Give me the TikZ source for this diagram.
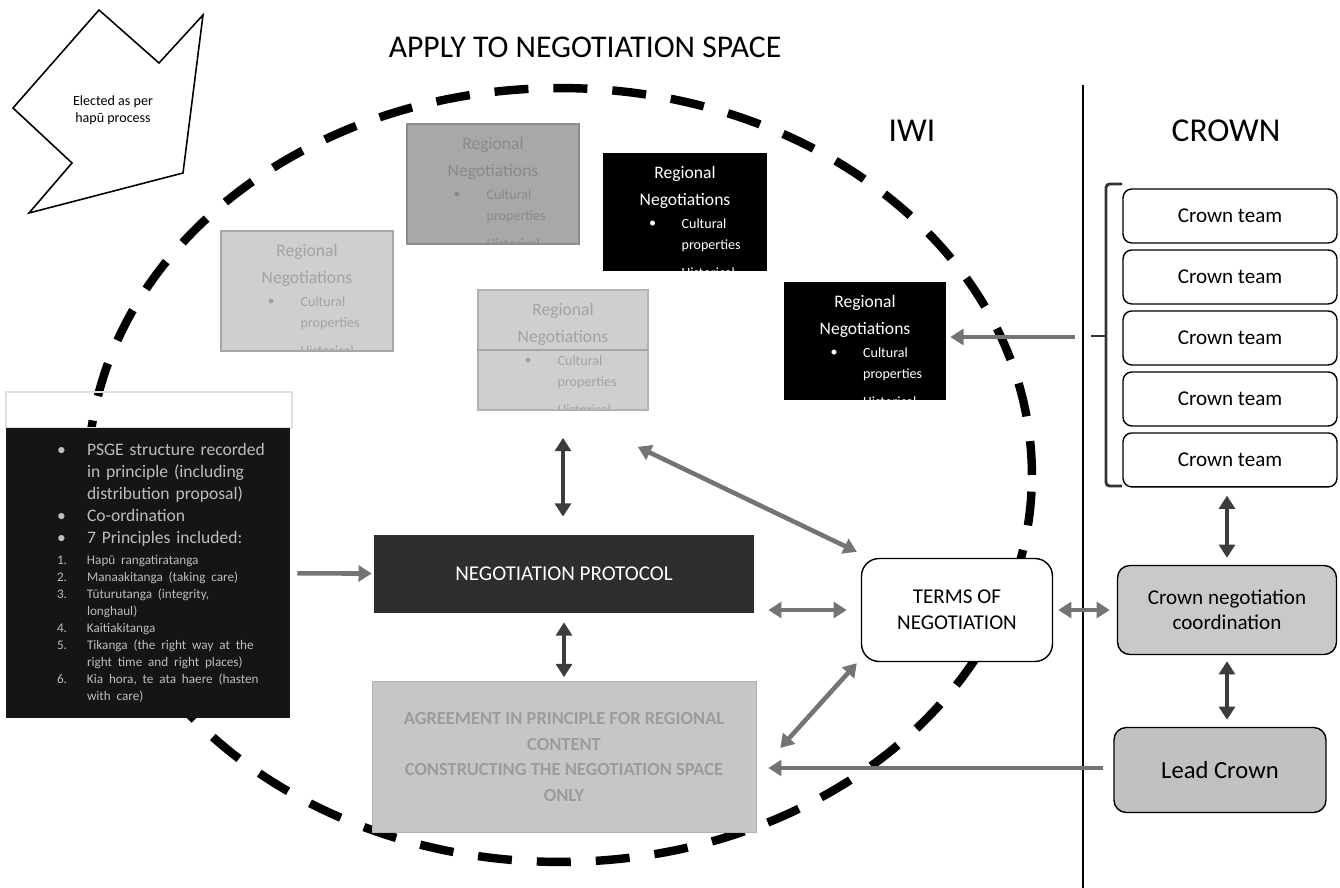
\documentclass[tikz,border=0pt]{standalone}
\usepackage{fontspec}
\setmainfont{Carlito}
\usepackage{array}
\usepackage{tikz}
\usetikzlibrary{arrows.meta, positioning}
\usepackage{xcolor}

\definecolor{arrowgrey}{HTML}{747474}
\definecolor{arrowdark}{HTML}{3C3C3C}
\definecolor{fadedark}{HTML}{A8A8A8}
\definecolor{fadelight}{HTML}{CFCFCF}
\definecolor{fadetextA}{HTML}{8A8A8A}
\definecolor{fadetextB}{HTML}{A3A3A3}
\definecolor{crownfill}{HTML}{C9C9C9}
\definecolor{leadfill}{HTML}{C1C1C1}
\definecolor{protofill}{HTML}{2E2E2E}
\definecolor{psgefill}{HTML}{151515}
\definecolor{psgetext}{HTML}{BDBDBD}
\definecolor{bottomfill}{HTML}{C6C6C6}
\definecolor{bottomtext}{HTML}{9C9C9C}

% text of a regional negotiations box, clipped by the box
\tikzset{regline/.style={draw=none,fill=none,inner sep=1pt,minimum width=0pt,minimum height=0pt}}
\newcommand{\regionaltext}[1]{%
  \node[regline,text=#1,font=\fontsize{10}{12}\selectfont] at ([shift={(0,21)}]path picture bounding box.north) {Regional};
  \node[regline,text=#1,font=\fontsize{10}{12}\selectfont] at ([shift={(0,48)}]path picture bounding box.north) {Negotiations};
  \node[regline,text=#1,font=\fontsize{8}{10}\selectfont] at ([shift={(50,71)}]path picture bounding box.north west) {\textbullet};
  \node[regline,text=#1,font=\fontsize{8}{10}\selectfont,anchor=west] at ([shift={(77,71)}]path picture bounding box.north west) {Cultural};
  \node[regline,text=#1,font=\fontsize{8}{10}\selectfont,anchor=west] at ([shift={(77,93)}]path picture bounding box.north west) {properties};
  \node[regline,text=#1,font=\fontsize{8}{10}\selectfont,anchor=west] at ([shift={(77,120)}]path picture bounding box.north west) {Historical};
}

\newcolumntype{P}[1]{>{\raggedright\arraybackslash}p{#1}}

\begin{document}
\begin{tikzpicture}[x=0.02cm,y=-0.02cm,node distance=1.22cm,on grid,>={Triangle[length=7.5pt,width=9pt]}]
    \tikzstyle{team}=[rectangle,rounded corners=5pt,draw,line width=0.8pt,minimum width=4.28cm,minimum height=1.08cm,font=\fontsize{12}{14}\selectfont]
    \tikzstyle{crownbox}=[rectangle,rounded corners=7pt,draw,line width=0.8pt,fill=crownfill,align=center]
    \tikzstyle{regional}=[rectangle,fill=black,inner sep=0pt,minimum width=3.3cm,minimum height=2.36cm,path picture={\regionaltext{white}}]
    \tikzstyle{faded}=[rectangle,line width=1pt,inner sep=0pt,minimum width=3.44cm,minimum height=2.4cm]
    \tikzstyle{link}=[draw=arrowgrey,line width=2.6pt]
    \tikzstyle{darklink}=[draw=arrowdark,line width=2.6pt]

    \useasboundingbox (0,0) rectangle (1340,888);

    % negotiation space
    \draw[line width=4.8pt,dash pattern=on 0.68cm off 0.5cm] (560,475) ellipse [x radius=9.44cm, y radius=7.74cm];

    % elected arrow
    \draw[line width=0.9pt,fill=white] (99,10) -- (159,63) -- (203,15) -- (183,173) -- (29,213) -- (72,163) -- (13,108) -- cycle;
    \node[align=center,font=\fontsize{8}{9.5}\selectfont] (elected) at (113,110) {Elected as per\\hapū process};

    \node[font=\fontsize{18}{20}\selectfont] (title) at (585,47) {APPLY TO NEGOTIATION SPACE};
    \node[font=\fontsize{19}{21}\selectfont] (iwi) at (912,131) {IWI};
    \node[font=\fontsize{19}{21}\selectfont] (crown) at (1226,131) {CROWN};
    \draw[line width=0.6pt] (1083,85) -- (1083,888);

    % regional boxes
    \node[faded,draw=black!45,fill=fadedark,path picture={\regionaltext{fadetextA}}] (G1) at (493,184) {};
    \node[faded,draw=black!35,fill=fadelight,path picture={\regionaltext{fadetextB}}] (G2) at (307,291) {};
    \node[faded,draw=black!30,fill=fadelight,minimum width=3.4cm,path picture={\regionaltext{fadetextB}}] (G3) at (563,350) {};
    \draw[black!35,line width=1pt] (G3.west) -- (G3.east);
    \node[regional] (RN1) at (685,212) {};
    \node[regional,minimum width=3.24cm] (RN2) at (865,341) {};

    % PSGE list
    \draw[black!12,line width=0.6pt] (6,392) rectangle (292,428);
    \node[rectangle,fill=psgefill,inner sep=0pt,minimum width=5.68cm,minimum height=5.8cm,text width=5.68cm,text=psgetext] (psge) at (148,573) {%
      {\fontsize{10}{12.5}\selectfont\noindent
      \begin{tabular}{@{\hspace{1.02cm}}P{0.6cm}@{}P{4cm}@{}}
      \textbullet & PSGE structure recorded\newline in principle (including\newline distribution proposal)\\
      \textbullet & Co-ordination\\
      \textbullet & 7 Principles included:\\
      \end{tabular}\par}
      {\fontsize{7.5}{9.7}\selectfont\noindent
      \begin{tabular}{@{\hspace{1.02cm}}P{0.6cm}@{}P{4cm}@{}}
      1. & Hapū rangatiratanga\\
      2. & Manaakitanga (taking care)\\
      3. & Tūturutanga (integrity,\newline longhaul)\\
      4. & Kaitiakitanga\\
      5. & Tikanga (the right way at the\newline right time and right places)\\
      6. & Kia hora, te ata haere (hasten\newline with care)\\
      \end{tabular}\par}};

    \node[rectangle,fill=protofill,text=white,minimum width=7.6cm,minimum height=1.56cm,font=\fontsize{12}{14}\selectfont] (NP) at (564,574) {NEGOTIATION PROTOCOL};
    \node[rectangle,draw=black!30,fill=bottomfill,text=bottomtext,minimum width=7.68cm,minimum height=3.02cm,align=center,font=\fontsize{10.5}{14.6}\selectfont\bfseries] (bottom) at (564,757) {AGREEMENT IN PRINCIPLE FOR REGIONAL\\CONTENT\\CONSTRUCTING THE NEGOTIATION SPACE\\ONLY};
    \node[rectangle,rounded corners=10pt,draw,line width=0.8pt,fill=white,minimum width=3.82cm,minimum height=2.06cm,align=center,font=\fontsize{12}{15}\selectfont] (terms) at (957,610) {TERMS OF\\NEGOTIATION};

    % crown side
    \node[team] (T1) at (1230,216) {Crown team};
    \node[team,below of=T1] (T2) {Crown team};
    \node[team,below of=T2] (T3) {Crown team};
    \node[team,below of=T3] (T4) {Crown team};
    \node[team,below of=T4] (T5) {Crown team};
    \node[crownbox,minimum width=4.38cm,minimum height=1.78cm,font=\fontsize{12}{14.5}\selectfont] (coord) at (1227,610) {Crown negotiation\\coordination};
    \node[crownbox,fill=leadfill,minimum width=4.24cm,minimum height=1.7cm,font=\fontsize{14}{16}\selectfont] (lead) at (1220,770) {Lead Crown};

    % brace round the crown teams
    \draw[line width=1.6pt,black!80,rounded corners=2pt] (1122,184) -- (1106,184) -- (1106,486) -- (1122,486);
    \draw[line width=1.6pt,black!80] (1106,336) -- (1091,336);
    \coordinate (tick) at (1091,337);

    \path[->,every edge/.append style={link}]
    (psge) edge[shorten <=0.14cm,shorten >=0.04cm] (NP)
    (tick) edge[shorten <=0.32cm,shorten >=0.08cm] (tick -| RN2.east)
    (lead.west |- 0,768) edge[shorten <=0.2cm,shorten >=0.24cm] (bottom.east |- 0,768)
    ;
    \path[<->,every edge/.append style={link}]
    ([shift={(-11,36)}]G3.south east) edge ([shift={(-4,-6)}]terms.north west)
    (NP.east |- terms.west) edge[shorten <=0.28cm,shorten >=0.28cm] (terms.west)
    ([shift={(-4,1)}]terms.south west) edge ([shift={(24,-9)}]bottom.east)
    (terms.east) edge[shorten <=0.1cm,shorten >=0.14cm] (coord.west)
    ;
    \path[<->,every edge/.append style={darklink}]
    (G3.south) edge[shorten <=0.54cm,shorten >=0.36cm] (G3.south |- NP.north)
    (NP.south) edge[shorten <=0.18cm,shorten >=0.08cm] (NP.south |- bottom.north)
    (T5.south -| coord.north) edge[shorten <=0.16cm,shorten >=0.14cm] (coord.north)
    (coord.south) edge[shorten <=0.12cm,shorten >=0.14cm] (coord.south |- lead.north)
    ;
\end{tikzpicture}
\end{document}
